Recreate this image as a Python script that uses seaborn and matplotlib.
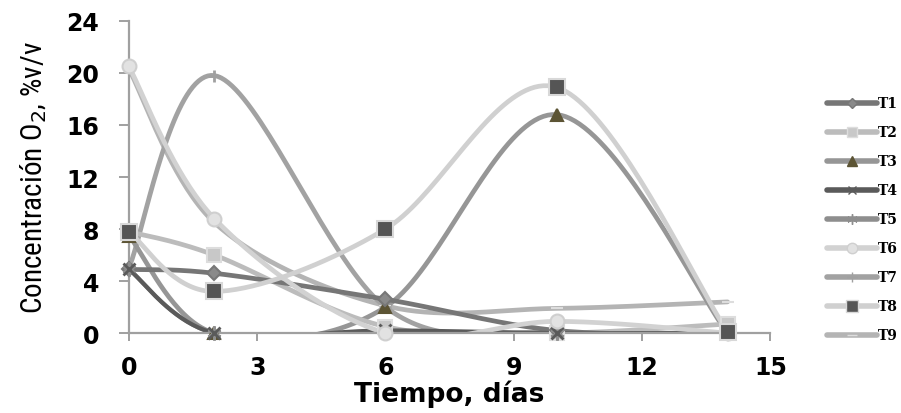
import numpy as np
import pandas as pd
import matplotlib
matplotlib.use("Agg")
import matplotlib.pyplot as plt
import seaborn as sns
from matplotlib.lines import Line2D
from matplotlib import font_manager as fm

dias = [0, 2, 6, 10, 14]
T1 = [4.9, 4.6, 2.6, 0.2, 0.0]
T2 = [7.8, 6.0, 0.5, 0.0, 0.7]
T3 = [7.5, 0.0, 2.0, 16.8, 0.0]
T4 = [4.9, 0.0, 0.2, 0.0, 0.0]
T5 = [4.9, 0.0, 0.0, 0.0, 0.0]
T6 = [20.5, 8.8, 0.0, 0.9, 0.0]
T7 = [5.0, 19.8, 2.0, 0.0, 0.0]
T8 = [7.8, 3.2, 8.0, 18.9, 0.1]
T9 = [20.3, 8.5, 2.1, 1.9, 2.4]
series_names = ["T1", "T2", "T3", "T4", "T5", "T6", "T7", "T8", "T9"]
series_vals = [T1, T2, T3, T4, T5, T6, T7, T8, T9]

xticks = [0, 3, 6, 9, 12, 15]
yticks = [0, 4, 8, 12, 16, 20, 24]

styles = {
    "T1": dict(color="#767676", marker="D", ms=7, mfc="#8a8a8a", mec="#777777", lw=3.4),
    "T2": dict(color="#bcbcbc", marker="s", ms=10, mfc="#c8c8c8", mec="#dddddd", lw=3.4),
    "T3": dict(color="#969696", marker="^", ms=9, mfc="#5c5434", mec="#5c5434", lw=3.4),
    "T4": dict(color="#5a5a5a", marker="x", ms=8, mfc="#5a5a5a", mec="#5a5a5a", lw=3.0),
    "T5": dict(color="#8e8e8e", marker=(6, 2, 0), ms=10, mfc="#8e8e8e", mec="#8e8e8e", lw=3.0),
    "T6": dict(color="#d2d2d2", marker="o", ms=10, mfc="#e2e2e2", mec="#cfcfcf", lw=3.4),
    "T7": dict(color="#a2a2a2", marker="+", ms=9, mfc="#a0a0a0", mec="#a0a0a0", lw=3.4),
    "T8": dict(color="#d0d0d0", marker="s", ms=11, mfc="#555555", mec="#d8d8d8", lw=3.4),
    "T9": dict(color="#b4b4b4", marker="_", ms=9, mfc="#b4b4b4", mec="#dddddd", lw=3.4),
}

sx, sy = 42.7, 13.0  # screen scaling for smoothing


def smooth(xs, ys, n=40):
    P = np.column_stack([np.array(xs, float) * sx, np.array(ys, float) * sy])
    out = []
    m = len(P)
    for i in range(m - 1):
        p0 = P[i - 1] if i > 0 else P[i]
        p1 = P[i]
        p2 = P[i + 1]
        p3 = P[i + 2] if i + 2 < m else P[i + 1]
        c1 = p1 + (p2 - p0) / 6.0
        c2 = p2 - (p3 - p1) / 6.0
        t = np.linspace(0, 1, n)[:, None]
        seg = ((1 - t) ** 3) * p1 + 3 * ((1 - t) ** 2) * t * c1 + 3 * (1 - t) * t ** 2 * c2 + t ** 3 * p2
        if i > 0:
            seg = seg[1:]
        out.append(seg)
    out = np.vstack(out)
    return out[:, 0] / sx, out[:, 1] / sy


sns.set_theme(style="white")
plt.rcParams["font.family"] = ["DejaVu Sans"]
plt.rcParams["text.color"] = "black"

available = {f.name for f in fm.fontManager.ttflist}
narrow = None
for cand in ["Liberation Sans Narrow", "Roboto Condensed", "Open Sans Condensed", "DejaVu Sans Condensed"]:
    if cand in available:
        narrow = cand
        break
if narrow is None:
    ylab_family, ylab_size = ["Liberation Sans", "DejaVu Sans"], 17
else:
    ylab_family, ylab_size = [narrow, "DejaVu Sans"], 21

fig = plt.figure(figsize=(9.01, 4.14), dpi=100)
ax = fig.add_axes([0.143, 0.193, 0.712, 0.754])

order = ["T9", "T7", "T3", "T2", "T1", "T5", "T4", "T6", "T8"]
for name in order:
    vals = series_vals[series_names.index(name)]
    st = styles[name]
    xs, ys = smooth(dias, vals)
    df = pd.DataFrame({"x": xs, "y": ys})
    sns.lineplot(data=df, x="x", y="y", sort=False, estimator=None, ax=ax,
                 color=st["color"], lw=st["lw"], solid_capstyle="round")
for name in order:
    vals = series_vals[series_names.index(name)]
    st = styles[name]
    ax.plot(dias, vals, linestyle="none", marker=st["marker"], ms=st["ms"],
            mfc=st["mfc"], mec=st["mec"], mew=1.5 if name not in ("T4", "T5", "T7") else 2.0,
            clip_on=False, zorder=5)

ax.set_xlim(0, 15)
ax.set_ylim(0, 24)
ax.set_xticks(xticks)
ax.set_yticks(yticks)
ax.set_xticklabels([str(v) for v in xticks], fontsize=17, fontweight="bold", color="black")
ax.set_yticklabels([str(v) for v in yticks], fontsize=17, fontweight="bold", color="black")
for s in ["top", "right"]:
    ax.spines[s].set_visible(False)
for s in ["left", "bottom"]:
    ax.spines[s].set_color("#a0a0a0")
    ax.spines[s].set_linewidth(1.6)
ax.tick_params(axis="y", direction="out", length=7.5, width=1.4, color="#a0a0a0", left=True, pad=14)
ax.tick_params(axis="x", direction="out", length=6, width=1.4, color="#a0a0a0", bottom=True, pad=10)
ax.set_xlabel("Tiempo, días", fontsize=19, fontweight="bold", color="black", labelpad=0)
ax.set_ylabel("Concentración O$_2$, %v/v", fontsize=ylab_size, color="black",
              family=ylab_family, labelpad=12)

handles = []
for name in series_names:
    st = styles[name]
    handles.append(Line2D([0], [0], color=st["color"], lw=4.0, marker=st["marker"],
                          ms=st["ms"] * 0.75, mfc=st["mfc"], mec=st["mec"]))
leg = fig.legend(handles, series_names, loc="upper left", bbox_to_anchor=(0.912, 0.778),
                 frameon=False, handlelength=3.6, handletextpad=0.05, labelspacing=1.08,
                 borderaxespad=0.0,
                 prop=dict(family="DejaVu Serif", weight="bold", size=10))

fig.savefig("out.png", dpi=100)
